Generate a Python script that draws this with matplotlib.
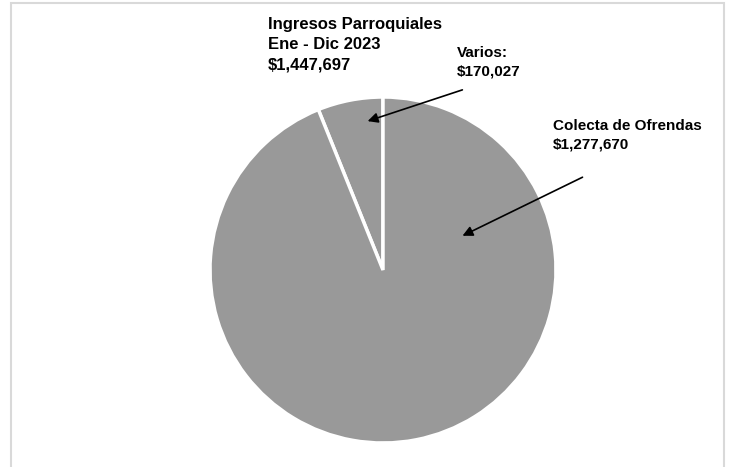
import matplotlib.pyplot as plt
from matplotlib.patches import Rectangle

# values shown on the chart labels
title_lines = ["Ingresos Parroquiales", "Ene - Dic 2023", "$1,447,697"]
labels = ["Varios:", "Colecta de Ofrendas"]
amounts = ["$170,027", "$1,277,670"]
# slice shares (percent) as drawn in the picture
shares = [6.1, 93.9]

fnt = ['Liberation Sans Narrow', 'Liberation Sans', 'DejaVu Sans']

fig = plt.figure(figsize=(7.32, 4.67), dpi=100)
W, H = 732.0, 467.0

# light gray frame around the chart area
fig.patches.append(Rectangle((11/W, -0.05), (724-11)/W, 1.05-3/H, transform=fig.transFigure,
                             fill=False, edgecolor='#d9d9d9', linewidth=1.5))

cx, cy, r = 383, 270, 173
ax = fig.add_axes([(cx-r)/W, (H-cy-r)/H, 2*r/W, 2*r/H])
ax.pie(shares, colors=['#999999', '#999999'], startangle=90, counterclock=True,
       wedgeprops=dict(edgecolor='white', linewidth=2.5))
ax.set_xlim(-1, 1)
ax.set_ylim(-1, 1)
ax.axis('off')

fig.text(268/W, 1-17/H, "\n".join(title_lines), ha='left', va='top', fontsize=12,
         fontweight='bold', family=fnt, linespacing=1.45)

arrow = dict(arrowstyle='-|>', color='black', lw=1.2, mutation_scale=15)
fig.text(457/W, 1-46/H, labels[0] + "\n" + amounts[0], ha='left', va='top',
         fontsize=11, fontweight='bold', family=fnt, linespacing=1.4)
ax.annotate("", xy=(365/W, 1-122/H), xycoords='figure fraction',
            xytext=(465/W, 1-89/H), textcoords='figure fraction', arrowprops=arrow)
fig.text(553/W, 1-119/H, labels[1] + "\n" + amounts[1], ha='left', va='top',
         fontsize=11, fontweight='bold', family=fnt, linespacing=1.45)
ax.annotate("", xy=(460/W, 1-237/H), xycoords='figure fraction',
            xytext=(585/W, 1-176/H), textcoords='figure fraction', arrowprops=arrow)

fig.savefig("out.png", dpi=100)
